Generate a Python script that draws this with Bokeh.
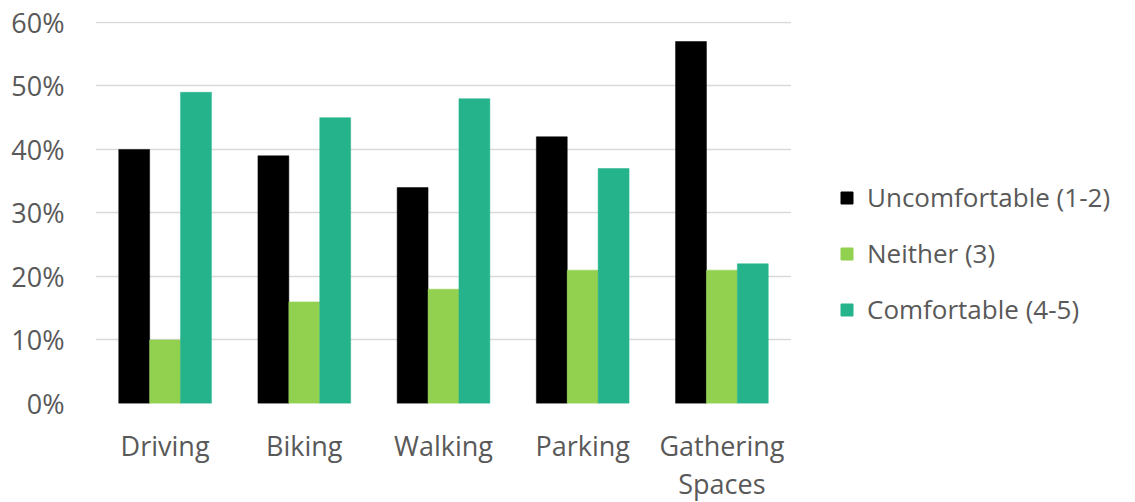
from bokeh.plotting import figure
from bokeh.layouts import row
from bokeh.models import ColumnDataSource, FactorRange, Range1d, NumeralTickFormatter, FixedTicker, Legend, LegendItem
from bokeh.transform import dodge
from bokeh.embed import file_html
from bokeh.resources import INLINE

categories = ["Driving", "Biking", "Walking", "Parking", "Gathering\nSpaces"]
uncomfortable = [0.40, 0.39, 0.34, 0.42, 0.57]
neither = [0.10, 0.16, 0.18, 0.21, 0.21]
comfortable = [0.49, 0.45, 0.48, 0.37, 0.22]
series_names = ["Uncomfortable (1-2)", "Neither (3)", "Comfortable (4-5)"]
y_ticks = [0, 0.1, 0.2, 0.3, 0.4, 0.5, 0.6]

colors = ["#000000", "#92d050", "#25b38b"]
text_color = "#595959"
font = "Open Sans"

source = ColumnDataSource(dict(cat=categories, u=uncomfortable, n=neither, c=comfortable))

p = figure(frame_width=696, frame_height=382, x_range=FactorRange(*categories), y_range=Range1d(0, 0.6015),
           output_backend="svg", toolbar_location=None,
           min_border_left=95, min_border_right=0, min_border_top=21, min_border_bottom=99)
p.outline_line_color = None
p.background_fill_color = "white"

bw = 0.222
renderers = []
for key, off, col in zip(["u", "n", "c"], [-bw, 0, bw], colors):
    r = p.vbar(x=dodge("cat", off, range=p.x_range), top=key, width=bw, source=source,
               fill_color=col, line_color=col, line_width=0.5)
    renderers.append(r)

p.xgrid.grid_line_color = None
p.ygrid.grid_line_color = "#d9d9d9"
p.ygrid.grid_line_width = 1.5
p.yaxis.ticker = FixedTicker(ticks=y_ticks)
p.yaxis.formatter = NumeralTickFormatter(format="0%")

for ax in [p.xaxis[0], p.yaxis[0]]:
    ax.axis_line_color = None
    ax.major_tick_line_color = None
    ax.minor_tick_line_color = None
    ax.major_tick_out = 0
    ax.major_tick_in = 0
    ax.major_label_text_font = font
    ax.major_label_text_font_size = "27px"
    ax.major_label_text_color = text_color

p.yaxis.major_label_standoff = 31
p.xaxis.major_label_standoff = 23
p.xaxis.major_label_text_line_height = 1.03

# legend panel (placeholder renderers hold no visible data)
pl = figure(width=328, height=502, output_backend="svg", toolbar_location=None,
            x_axis_location=None, y_axis_location=None, min_border=0)
pl.outline_line_color = None
pl.grid.visible = False
nan = float("nan")
leg_renderers = []
for col in colors:
    leg_renderers.append(pl.vbar(x=[nan], top=[nan], width=1, fill_color=col, line_color=col))

legend = Legend(items=[LegendItem(label=n, renderers=[r]) for n, r in zip(series_names, leg_renderers)],
                location=(48, 74), padding=0, margin=0, border_line_color=None,
                background_fill_alpha=0, glyph_width=15, glyph_height=15,
                label_text_font=font, label_text_font_size="26px", label_text_color=text_color,
                label_standoff=13, spacing=20)
pl.add_layout(legend, "center")

layout = row(p, pl, spacing=0)
open("out.html", "w").write(file_html(layout, INLINE))
